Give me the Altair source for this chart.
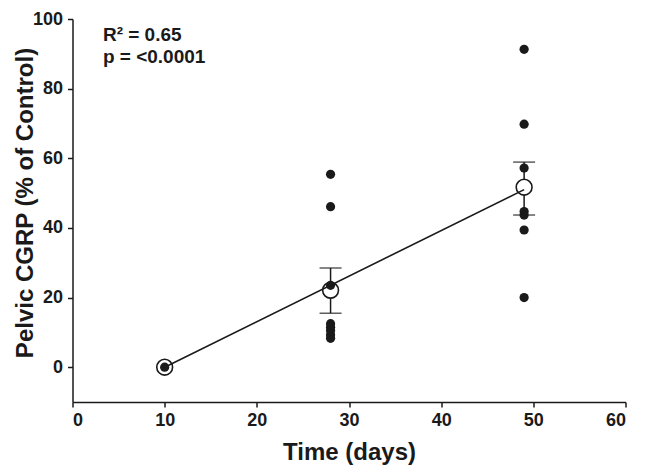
import altair as alt
import pandas as pd

# Individual observations
day10_vals = [0.0]
day28_vals = [55.4, 46.1, 23.5, 12.5, 11.5, 10.5, 9.3, 8.3]
day49_vals = [91.3, 69.8, 57.2, 44.7, 43.7, 39.4, 20.0]

# Group means and SEM bounds
mean_days = [10, 28, 49]
mean_vals = [0.0, 22.1, 51.7]
sem_lo = [0.0, 15.5, 43.7]
sem_hi = [0.0, 28.5, 58.9]

# Regression line end points
fit_days = [10, 49]
fit_vals = [0.0, 51.0]

# Annotation
ann_x = [3.3, 3.3]
ann_y = [95.5, 89.0]
ann_text = ["R² = 0.65", "p = <0.0001"]

pts = pd.DataFrame({
    "day": [10] * len(day10_vals) + [28] * len(day28_vals) + [49] * len(day49_vals),
    "val": day10_vals + day28_vals + day49_vals,
})
means = pd.DataFrame({"day": mean_days, "mean": mean_vals, "lo": sem_lo, "hi": sem_hi})
err = means[means["hi"] > means["lo"]]
fit = pd.DataFrame({"day": fit_days, "val": fit_vals})
ann = pd.DataFrame({"x": ann_x, "y": ann_y, "t": ann_text})

FONT = "Liberation Sans"
INK = "#1a1a1a"
W, H = 553, 383

xscale = alt.Scale(domain=[0, 60], nice=False, zero=False)
yscale = alt.Scale(domain=[-10, 100], nice=False, zero=False)

xaxis = alt.Axis(values=[0, 10, 20, 30, 40, 50, 60], title="Time (days)", grid=False,
                 tickSize=5, labelPadding=4, titlePadding=11)
yaxis = alt.Axis(values=[0, 20, 40, 60, 80, 100], title="Pelvic CGRP (% of Control)", grid=False,
                 tickSize=5, labelPadding=5, titleX=-47, titleY=H / 2 - 8,
                 titleBaseline="middle", titleAlign="center")

x = alt.X("day:Q", scale=xscale, axis=xaxis)

bars = alt.Chart(err).mark_rule(color=INK, strokeWidth=1.5).encode(
    x=x, y=alt.Y("lo:Q", scale=yscale, axis=yaxis), y2="hi:Q"
)
cap_lo = alt.Chart(err).mark_tick(color=INK, thickness=1.5, size=22, orient="horizontal").encode(
    x="day:Q", y=alt.Y("lo:Q", scale=yscale)
)
cap_hi = alt.Chart(err).mark_tick(color=INK, thickness=1.5, size=22, orient="horizontal").encode(
    x="day:Q", y=alt.Y("hi:Q", scale=yscale)
)
circles = alt.Chart(means).mark_point(shape="circle", size=250, filled=True, fill="white",
                                      stroke=INK, strokeWidth=1.6, opacity=1).encode(
    x="day:Q", y=alt.Y("mean:Q", scale=yscale)
)
dots = alt.Chart(pts).mark_circle(size=85, color=INK, opacity=1).encode(
    x="day:Q", y=alt.Y("val:Q", scale=yscale)
)
line = alt.Chart(fit).mark_line(color=INK, strokeWidth=1.6).encode(
    x="day:Q", y=alt.Y("val:Q", scale=yscale)
)
text = alt.Chart(ann).mark_text(align="left", baseline="middle", font=FONT, fontSize=19,
                                fontWeight="bold", color=INK).encode(
    x=alt.X("x:Q", scale=xscale), y=alt.Y("y:Q", scale=yscale), text="t:N"
)

chart = alt.layer(bars, cap_lo, cap_hi, circles, dots, line, text).properties(
    width=W, height=H,
    autosize=alt.AutoSizeParams(type="none"),
    padding={"left": 64.5, "top": 11, "right": 11, "bottom": 65},
).configure_view(stroke=None).configure_axis(
    domainColor=INK, domainWidth=1.5, tickColor=INK, tickWidth=1.5,
    labelFont=FONT, labelFontSize=18, labelFontWeight="bold", labelColor=INK,
    titleFont=FONT, titleFontSize=24, titleFontWeight="bold", titleColor=INK,
)

chart.save("out.html", embed_options={"renderer": "svg", "actions": False})
